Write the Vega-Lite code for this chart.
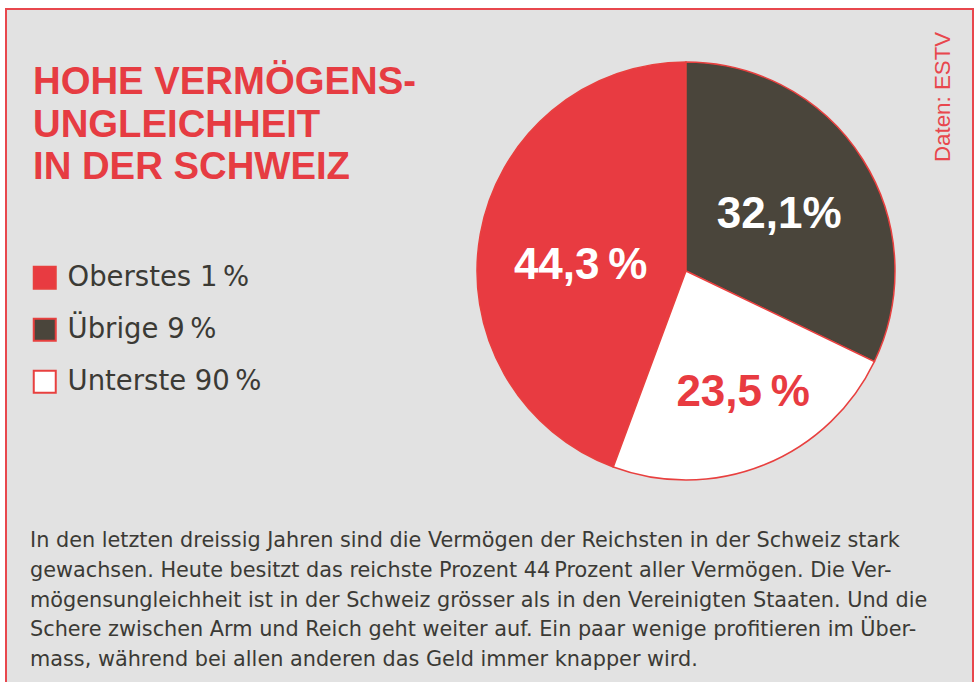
{
  "$schema": "https://vega.github.io/schema/vega-lite/v6.json",
  "width": 978,
  "height": 682,
  "autosize": {"type": "fit", "contains": "padding"},
  "padding": {"left": 6, "top": 9, "right": 5, "bottom": -4},
  "background": "#ffffff",
  "config": {
    "view": {"fill": "#e2e2e2", "stroke": "#e8474d", "strokeWidth": 2},
    "font": "Liberation Sans"
  },
  "datasets": {
    "anteile": [
      {"gruppe": "Oberstes 1\u2009%", "anteil": 44.3, "label": "44,3\u2009%"},
      {"gruppe": "Übrige 9\u2009%", "anteil": 32.1, "label": "32,1%"},
      {"gruppe": "Unterste 90\u2009%", "anteil": 23.5, "label": "23,5\u2009%"}
    ],
    "eins": [{}]
  },
  "layer": [
    {
      "data": {"name": "anteile"},
      "mark": {"type": "arc", "radius": 209, "stroke": "#e8403f", "strokeWidth": 1.5},
      "encoding": {
        "theta": {"field": "anteil", "type": "quantitative", "stack": true},
        "order": {"field": "gruppe", "sort": "descending"},
        "x": {"datum": 680, "type": "quantitative", "scale": {"domain": [0, 967], "nice": false, "zero": false}, "axis": null},
        "y": {"datum": 262, "type": "quantitative", "scale": {"domain": [0, 677], "nice": false, "zero": false, "reverse": true}, "axis": null},
        "color": {
          "field": "gruppe",
          "type": "nominal",
          "scale": {"domain": ["Oberstes 1\u2009%", "Übrige 9\u2009%", "Unterste 90\u2009%"], "range": ["#e83b41", "#4a453b", "#ffffff"]},
          "legend": {
            "title": null,
            "orient": "none",
            "legendX": 25,
            "legendY": 255,
            "padding": 0,
            "symbolType": "square",
            "symbolSize": 484,
            "symbolStrokeColor": "#e8403f",
            "symbolStrokeWidth": 2,
            "symbolOpacity": 1,
            "labelFontSize": 27.5,
            "labelFont": "DejaVu Sans",
            "labelColor": "#3b3a35",
            "labelOffset": 9,
            "labelLimit": 400,
            "rowPadding": 21,
            "encode": {"symbols": {"update": {"stroke": {"value": "#e8403f"}, "strokeWidth": {"value": 2}}}}
          }
        }
      }
    },
    {
      "data": {"name": "anteile"},
      "mark": {"type": "text", "radius": 110, "dy": 3, "font": "Liberation Sans", "fontSize": 44, "fontWeight": "bold", "color": "#ffffff"},
      "encoding": {
        "theta": {"field": "anteil", "type": "quantitative", "stack": true},
        "order": {"field": "gruppe", "sort": "descending"},
        "x": {"datum": 680, "type": "quantitative"},
        "y": {"datum": 262, "type": "quantitative"},
        "text": {"condition": {"test": "datum.anteil === 32.1", "field": "label"}, "value": ""}
      }
    },
    {
      "data": {"name": "anteile"},
      "mark": {"type": "text", "radius": 134, "dx": 7, "dy": -2, "font": "Liberation Sans", "fontSize": 44, "fontWeight": "bold", "color": "#e83b41"},
      "encoding": {
        "theta": {"field": "anteil", "type": "quantitative", "stack": true},
        "order": {"field": "gruppe", "sort": "descending"},
        "x": {"datum": 680, "type": "quantitative"},
        "y": {"datum": 262, "type": "quantitative"},
        "text": {"condition": {"test": "datum.anteil === 23.5", "field": "label"}, "value": ""}
      }
    },
    {
      "data": {"name": "anteile"},
      "mark": {"type": "text", "radius": 106, "dx": -1, "dy": 14, "font": "Liberation Sans", "fontSize": 44, "fontWeight": "bold", "color": "#ffffff"},
      "encoding": {
        "theta": {"field": "anteil", "type": "quantitative", "stack": true},
        "order": {"field": "gruppe", "sort": "descending"},
        "x": {"datum": 680, "type": "quantitative"},
        "y": {"datum": 262, "type": "quantitative"},
        "text": {"condition": {"test": "datum.anteil === 44.3", "field": "label"}, "value": ""}
      }
    },
    {
      "data": {"name": "eins"},
      "mark": {"type": "text", "align": "left", "baseline": "alphabetic", "font": "Liberation Sans", "fontSize": 38.3, "fontWeight": "bold", "color": "#e63c42", "lineHeight": 42.5},
      "encoding": {
        "x": {"datum": 27, "type": "quantitative"},
        "y": {"datum": 85, "type": "quantitative"},
        "text": {"value": ["HOHE VERMÖGENS-", "UNGLEICHHEIT", "IN DER SCHWEIZ"]}
      }
    },
    {
      "data": {"name": "eins"},
      "mark": {"type": "text", "align": "left", "baseline": "alphabetic", "angle": 270, "font": "Liberation Sans", "fontSize": 22.3, "color": "#e8474d"},
      "encoding": {
        "x": {"datum": 944, "type": "quantitative"},
        "y": {"datum": 153, "type": "quantitative"},
        "text": {"value": "Daten: ESTV"}
      }
    },
    {
      "data": {"name": "eins"},
      "mark": {"type": "text", "align": "left", "baseline": "alphabetic", "font": "DejaVu Sans", "fontSize": 20.8, "color": "#3b3a35", "lineHeight": 29.8},
      "encoding": {
        "x": {"datum": 24, "type": "quantitative"},
        "y": {"datum": 538, "type": "quantitative"},
        "text": {"value": [
          "In den letzten dreissig Jahren sind die Vermögen der Reichsten in der Schweiz stark",
          "gewachsen. Heute besitzt das reichste Prozent 44\u2009Prozent aller Vermögen. Die Ver-",
          "mögensungleichheit ist in der Schweiz grösser als in den Vereinigten Staaten. Und die",
          "Schere zwischen Arm und Reich geht weiter auf. Ein paar wenige profitieren im Über-",
          "mass, während bei allen anderen das Geld immer knapper wird."
        ]}
      }
    }
  ]
}
